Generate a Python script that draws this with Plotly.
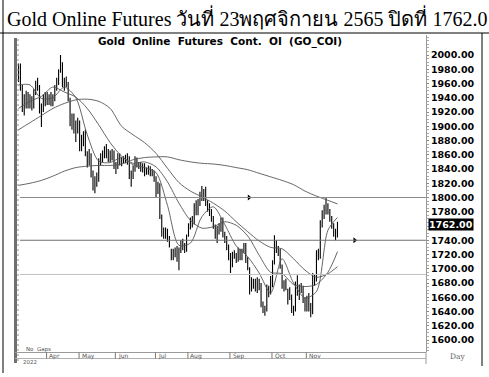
import plotly.graph_objects as go
import pandas as pd

# ---------------- data ----------------
HOLIDAYS = ["2022-04-06", "2022-04-13", "2022-04-14", "2022-04-15", "2022-05-02",
            "2022-05-04", "2022-05-16", "2022-06-03", "2022-07-13", "2022-07-14",
            "2022-07-28", "2022-07-29", "2022-08-12", "2022-10-13", "2022-10-14",
            "2022-10-24"]
dates = [d for d in pd.bdate_range("2022-03-11", "2022-11-23").strftime("%Y-%m-%d")
         if d not in HOLIDAYS]

opens = [
    # Mar
    1975, 1985, 1955, 1925, 1935, 1945, 1928, 1938, 1928, 1950, 1962, 1955, 1928, 1925, 1938,
    # Apr
    1942, 1935, 1942, 1932, 1940, 1955, 1962, 1985, 1985, 1958, 1965, 1958, 1938, 1905, 1915, 1895, 1903,
    # May
    1906, 1872, 1885, 1890, 1862, 1850, 1860, 1835, 1815, 1825, 1828, 1852, 1855, 1862, 1870, 1862, 1858, 1860, 1862,
    # Jun
    1845, 1842, 1858, 1848, 1852, 1855, 1850, 1856, 1830, 1832, 1840, 1852, 1845, 1846, 1840, 1844, 1836, 1840, 1838, 1836, 1834,
    # Jul
    1826, 1812, 1815, 1772, 1750, 1748, 1752, 1742, 1722, 1716, 1722, 1728, 1712, 1728, 1738, 1730, 1728,
    # Aug
    1748, 1760, 1768, 1765, 1790, 1778, 1792, 1800, 1800, 1812, 1792, 1790, 1780, 1772, 1760, 1748, 1755, 1760, 1768, 1748, 1742, 1730,
    # Sep
    1718, 1706, 1720, 1718, 1712, 1726, 1716, 1724, 1734, 1712, 1700, 1672, 1680, 1682, 1672, 1680, 1676, 1650, 1640, 1645, 1668, 1672,
    # Oct
    1676, 1710, 1736, 1728, 1724, 1704, 1680, 1676, 1660, 1668, 1660, 1640, 1642, 1676, 1662, 1674, 1672, 1656,
    # Nov
    1644, 1656, 1646, 1640, 1688, 1684, 1720, 1716, 1762, 1778, 1780, 1788, 1780, 1770, 1760, 1748, 1750,
]
highs = [
    1988, 1988, 1958, 1945, 1950, 1948, 1945, 1942, 1952, 1964, 1968, 1958, 1932, 1945, 1948,
    1948, 1945, 1948, 1945, 1958, 1968, 1980, 2000, 1990, 1968, 1970, 1962, 1940, 1918, 1918, 1908, 1912,
    1908, 1888, 1893, 1895, 1865, 1868, 1862, 1838, 1830, 1835, 1855, 1862, 1866, 1872, 1875, 1868, 1866, 1868, 1866,
    1850, 1862, 1862, 1856, 1858, 1860, 1862, 1858, 1838, 1845, 1858, 1856, 1850, 1850, 1848, 1848, 1842, 1845, 1844, 1840, 1838,
    1830, 1822, 1820, 1776, 1758, 1758, 1756, 1746, 1728, 1728, 1730, 1732, 1730, 1740, 1742, 1736, 1748,
    1764, 1772, 1774, 1792, 1796, 1798, 1808, 1816, 1812, 1815, 1796, 1792, 1784, 1774, 1762, 1760, 1764, 1772, 1772, 1752, 1746, 1734,
    1722, 1724, 1726, 1722, 1730, 1728, 1728, 1736, 1736, 1716, 1702, 1688, 1686, 1686, 1688, 1686, 1680, 1654, 1648, 1678, 1676, 1690,
    1712, 1747, 1740, 1732, 1728, 1706, 1684, 1686, 1672, 1674, 1664, 1648, 1682, 1691, 1678, 1680, 1676, 1660,
    1662, 1666, 1652, 1694, 1692, 1726, 1728, 1768, 1782, 1790, 1800, 1792, 1784, 1774, 1764, 1756, 1766,
]
lows = [
    1962, 1950, 1920, 1915, 1925, 1925, 1925, 1922, 1925, 1944, 1950, 1918, 1899, 1920, 1928,
    1930, 1930, 1928, 1928, 1935, 1950, 1958, 1975, 1955, 1950, 1955, 1935, 1900, 1895, 1890, 1878, 1890,
    1865, 1865, 1872, 1858, 1842, 1845, 1828, 1810, 1806, 1815, 1822, 1845, 1850, 1855, 1855, 1850, 1850, 1852, 1840,
    1833, 1840, 1845, 1844, 1848, 1848, 1846, 1826, 1815, 1826, 1836, 1842, 1840, 1836, 1835, 1830, 1832, 1832, 1830, 1830, 1822,
    1800, 1805, 1770, 1745, 1742, 1742, 1738, 1730, 1712, 1712, 1716, 1710, 1698, 1722, 1726, 1722, 1724,
    1745, 1755, 1758, 1762, 1775, 1775, 1788, 1795, 1795, 1788, 1780, 1774, 1766, 1756, 1742, 1736, 1748, 1752, 1744, 1736, 1726, 1712,
    1694, 1702, 1714, 1708, 1710, 1712, 1712, 1722, 1708, 1698, 1664, 1668, 1672, 1668, 1666, 1670, 1646, 1638, 1634, 1640, 1660, 1664,
    1674, 1706, 1722, 1718, 1700, 1672, 1668, 1670, 1650, 1656, 1638, 1634, 1640, 1662, 1656, 1666, 1652, 1640,
    1640, 1640, 1632, 1636, 1676, 1682, 1712, 1714, 1758, 1770, 1776, 1776, 1766, 1756, 1745, 1740, 1744,
]
closes = [
    1985, 1958, 1925, 1935, 1945, 1928, 1938, 1928, 1950, 1962, 1955, 1928, 1925, 1938, 1942,
    1935, 1942, 1932, 1940, 1955, 1962, 1975, 1988, 1958, 1965, 1958, 1938, 1905, 1915, 1895, 1903, 1906,
    1872, 1885, 1890, 1862, 1850, 1860, 1835, 1820, 1825, 1828, 1852, 1855, 1862, 1870, 1862, 1858, 1860, 1862, 1845,
    1842, 1858, 1848, 1852, 1855, 1850, 1856, 1830, 1832, 1840, 1852, 1845, 1846, 1840, 1844, 1836, 1840, 1838, 1836, 1834, 1826,
    1812, 1815, 1772, 1750, 1748, 1752, 1742, 1732, 1716, 1722, 1728, 1712, 1728, 1738, 1730, 1728, 1744,
    1760, 1768, 1765, 1790, 1778, 1792, 1800, 1800, 1808, 1792, 1790, 1780, 1772, 1760, 1748, 1755, 1760, 1768, 1748, 1742, 1730, 1718,
    1706, 1720, 1718, 1712, 1726, 1716, 1724, 1734, 1712, 1704, 1672, 1680, 1682, 1672, 1680, 1676, 1650, 1640, 1645, 1668, 1672, 1676,
    1710, 1736, 1728, 1724, 1704, 1680, 1676, 1684, 1660, 1662, 1640, 1640, 1678, 1668, 1674, 1672, 1656, 1644,
    1656, 1646, 1640, 1688, 1684, 1720, 1716, 1762, 1778, 1780, 1788, 1780, 1770, 1760, 1748, 1750, 1762,
]

# moving averages, read every 6th trading day (plus the last day)
ma_days = [0, 6, 12, 18, 24, 30, 36, 42, 48, 54, 60, 66, 72, 78, 84, 90, 96, 102, 108,
           114, 120, 126, 132, 138, 144, 150, 156, 162, 167]
ma_fast = [1958, 1958, 1939, 1940, 1955, 1940, 1888, 1851, 1849, 1856, 1846, 1842, 1835, 1789,
           1733, 1736, 1773, 1787, 1762, 1732, 1717, 1694, 1666, 1714, 1680, 1659, 1668, 1754, 1772]
ma_mid = [1925, 1935, 1942, 1955, 1948, 1941, 1925, 1902, 1877, 1858, 1848, 1850, 1843, 1822,
          1792, 1768, 1757, 1759, 1766, 1761, 1746, 1719, 1695, 1693, 1678, 1675, 1678, 1695, 1724]
ma_slow = [1895, 1905, 1915, 1925, 1932, 1937, 1938, 1935, 1925, 1900, 1888, 1877, 1862, 1841,
           1821, 1809, 1801, 1792, 1781, 1766, 1752, 1739, 1730, 1728, 1714, 1698, 1688, 1693, 1703]
ma_long = [1817, 1820, 1824, 1830, 1837, 1842, 1844, 1845, 1845, 1847, 1853, 1856, 1857, 1857,
           1853, 1850, 1848, 1847, 1845, 1842, 1839, 1834, 1829, 1824, 1818, 1809, 1802, 1796, 1791]

levels = [1800, 1740, 1692]
level_colors = ["#8a8a8a", "#707070", "#c0c0c0"]
marker_days = [120.7, 176.0]
marker_levels = [1800, 1740]

y_ticks = [v for v in range(1600, 2001, 20) if v != 1760]
last_close = closes[-1]

title_text = "Gold Online Futures วันที่ 23พฤศจิกายน 2565 ปิดที่ 1762.0"
subtitle_text = "Gold  Online  Futures  Cont.  OI  (GO_COI)"

# ---------------- geometry (pixels) ----------------
W, H = 489, 377
PL, PR, PT, PB = 15, 426, 35, 352
X0PX, DXPX = 18.5, 1.91          # pixel of first bar, pixels per trading day
x_range = [(PL - X0PX) / DXPX, (PR - X0PX) / DXPX]
Y2000, DYPX = 55, 0.7125
y_range = [2000 - (PB - Y2000) / DYPX, 2000 + (Y2000 - PT) / DYPX]


def px(xp):
    return (xp - PL) / (PR - PL)


def py(yp):
    return (PB - yp) / (PB - PT)


idx = list(range(len(dates)))

fig = go.Figure()

fig.add_trace(go.Ohlc(
    x=idx, open=opens, high=highs, low=lows, close=closes, text=dates,
    increasing=dict(line=dict(color="black", width=1.1)),
    decreasing=dict(line=dict(color="black", width=1.1)),
    tickwidth=0.25, showlegend=False, hoverinfo="skip"))

for vals in (ma_long, ma_slow, ma_mid, ma_fast):
    fig.add_trace(go.Scatter(x=ma_days, y=vals, mode="lines",
                             line=dict(color="#555555", width=0.9, shape="spline", smoothing=0.8),
                             showlegend=False, hoverinfo="skip"))

fig.add_trace(go.Scatter(x=marker_days, y=marker_levels, mode="markers",
                         marker=dict(symbol="triangle-right", size=5, color="black"),
                         showlegend=False, hoverinfo="skip"))

shapes = []
for lv, col in zip(levels, level_colors):
    shapes.append(dict(type="line", xref="paper", yref="y", x0=px(20), x1=1, y0=lv, y1=lv,
                       line=dict(color=col, width=1)))

def pline(x0, y0, x1, y1, color="black", width=1):
    shapes.append(dict(type="line", xref="paper", yref="paper",
                       x0=px(x0), x1=px(x1), y0=py(y0), y1=py(y1),
                       line=dict(color=color, width=width)))

# outer frame
pline(0, 33, W, 33, "black", 1)
pline(3, 0, 3, 373, "black", 1)
pline(482, 33, 482, 366, "black", 1)
# thick left axis
pline(15.5, 38, 15.5, 363, "#707070", 3)
for k in range(40, 362, 5):
    pline(17, k, 19, k, "#909090", 1)
# bottom band
pline(15, 352.5, PR, 352.5, "#9a9a9a", 1.2)
pline(15, 358.5, PR, 358.5, "#b0b0b0", 1)
# right axis extension
pline(PR, 352, PR, 364, "#9a9a9a", 1)

annotations = [
    dict(text=title_text, xref="paper", yref="paper", x=px(247), y=py(18),
         xanchor="center", yanchor="middle", showarrow=False,
         font=dict(family="Liberation Serif", size=20, color="black")),
    dict(text=subtitle_text, xref="paper", yref="paper", x=px(220), y=py(42),
         xanchor="center", yanchor="middle", showarrow=False,
         font=dict(family="DejaVu Sans", size=10.5, color="black", weight="bold")),
    dict(text=f"{last_close:.2f}", xref="paper", yref="y", x=px(428), y=last_close,
         xanchor="left", yanchor="middle", showarrow=False, bgcolor="black", borderpad=0,
         font=dict(family="DejaVu Sans", size=9.5, color="white", weight="bold")),
    dict(text="No  Gaps", xref="paper", yref="paper", x=px(24), y=py(349.5),
         xanchor="left", yanchor="middle", showarrow=False,
         font=dict(family="DejaVu Sans", size=5.5, color="#555")),
    dict(text="2022", xref="paper", yref="paper", x=px(21), y=py(362),
         xanchor="left", yanchor="middle", showarrow=False,
         font=dict(family="DejaVu Sans", size=5.5, color="#555")),
    dict(text="Day", xref="paper", yref="paper", x=px(457), y=py(357),
         xanchor="center", yanchor="middle", showarrow=False,
         font=dict(family="DejaVu Serif", size=7.5, color="#666")),
]

# month labels at first trading day of each month
seen = set()
for i, d in enumerate(dates):
    m = d[:7]
    if m in seen:
        continue
    seen.add(m)
    if i == 0:
        continue
    lab = pd.Timestamp(d).strftime("%b")
    annotations.append(dict(text=lab, xref="x", yref="paper", x=i, y=py(355.5),
                            xanchor="left", yanchor="middle", showarrow=False, xshift=0,
                            font=dict(family="DejaVu Sans", size=6, color="#555")))
    shapes.append(dict(type="line", xref="x", yref="paper", x0=i - 0.3, x1=i - 0.3,
                       y0=py(352.5), y1=py(358.5), line=dict(color="#777", width=1)))

fig.update_layout(
    width=W, height=H,
    margin=dict(l=PL, r=W - PR, t=PT, b=H - PB, pad=0),
    paper_bgcolor="white", plot_bgcolor="white",
    shapes=shapes, annotations=annotations,
    xaxis=dict(range=x_range, showgrid=False, zeroline=False, showticklabels=False,
               showline=False, ticks="", rangeslider=dict(visible=False), fixedrange=True),
    yaxis=dict(range=y_range, side="right", showgrid=False, zeroline=False,
               tickvals=y_ticks, ticktext=[f"{v:.2f}" for v in y_ticks],
               tickfont=dict(family="DejaVu Sans", size=9.5, color="black", weight="bold"),
               ticks="outside", ticklen=2, tickcolor="#888", showline=True,
               linecolor="#9a9a9a", linewidth=1,
               minor=dict(ticks="outside", ticklen=2, dtick=5, tickcolor="#aaa"),
               fixedrange=True),
)

fig.write_html("out.html")
